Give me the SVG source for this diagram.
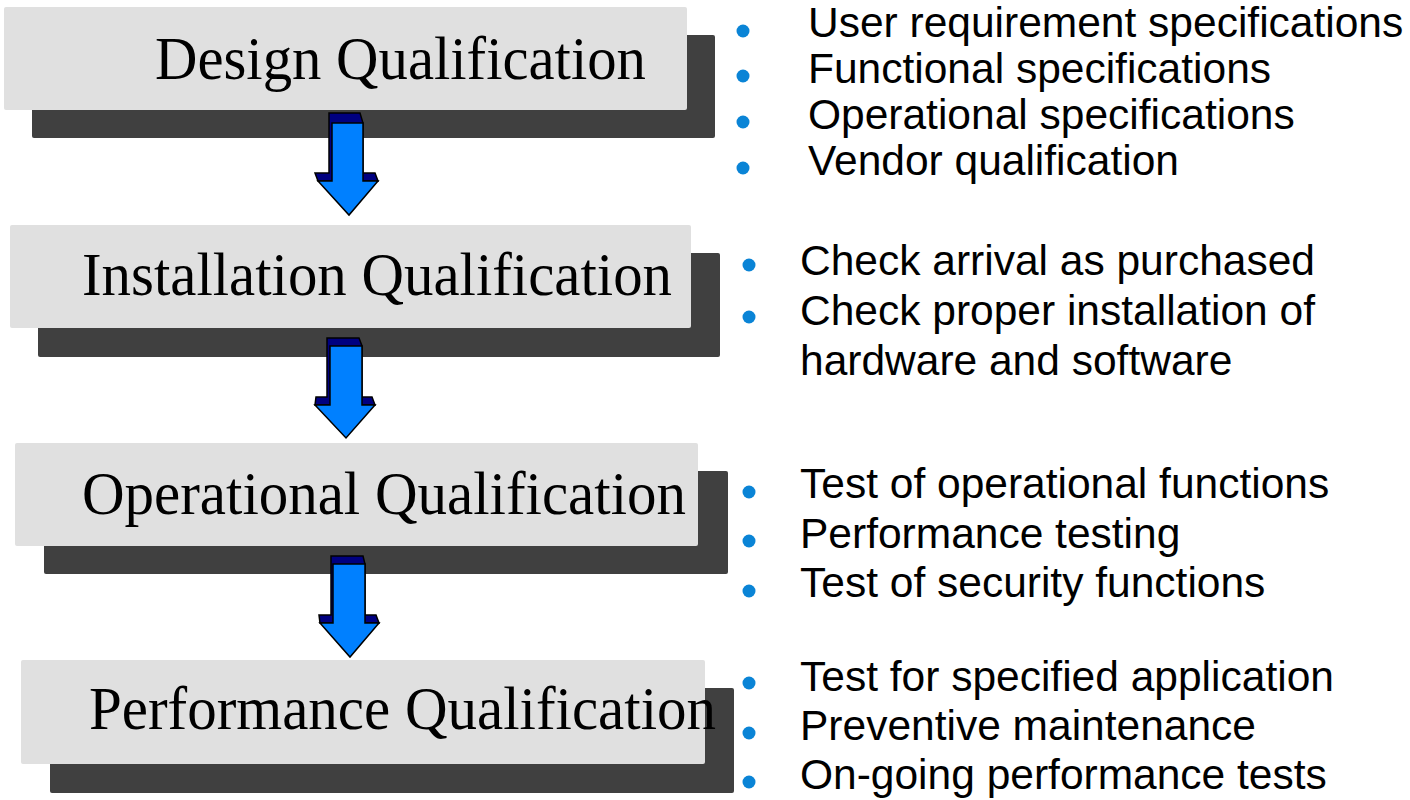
<svg xmlns="http://www.w3.org/2000/svg" width="1410" height="800" viewBox="0 0 1410 800">
<defs>
<style>
.shadow{fill:#404040}
.box{fill:#e0e0e0}
.title{font-family:"Liberation Serif","Times New Roman",serif;font-size:62px;fill:#000}
.item{font-family:"Liberation Sans",Arial,sans-serif;font-size:42.5px;fill:#000}
.bullet{fill:#0a84d6}
.aback{fill:#000080;stroke:#000;stroke-width:1.5;stroke-linejoin:miter}
.afront{fill:#0080ff;stroke:#000;stroke-width:1.5;stroke-linejoin:miter}
</style>
</defs>
<rect width="1410" height="800" fill="#fff"/>

<g id="node-dq">
<rect class="shadow" x="32" y="35" width="683" height="103" rx="2"/>
<rect class="box" x="4" y="7" width="683" height="103" rx="2"/>
<text class="title" x="155" y="79" textLength="491" lengthAdjust="spacingAndGlyphs">Design Qualification</text>
</g>
<g id="node-iq">
<rect class="shadow" x="38" y="253" width="682" height="104" rx="2"/>
<rect class="box" x="10" y="225" width="681" height="103" rx="2"/>
<text class="title" x="82" y="295" textLength="590" lengthAdjust="spacingAndGlyphs">Installation Qualification</text>
</g>
<g id="node-oq">
<rect class="shadow" x="44" y="471" width="684" height="103" rx="2"/>
<rect class="box" x="15" y="443" width="683" height="103" rx="2"/>
<text class="title" x="82" y="514" textLength="604" lengthAdjust="spacingAndGlyphs">Operational Qualification</text>
</g>
<g id="node-pq">
<rect class="shadow" x="50" y="688" width="684" height="105" rx="2"/>
<rect class="box" x="21" y="660" width="684" height="104" rx="2"/>
<text class="title" x="89" y="729" textLength="627" lengthAdjust="spacingAndGlyphs">Performance Qualification</text>
</g>

<g id="connectors">
<g id="arrow-1">
<path class="aback" d="M329,113 L360,113 L363,123 L363,173 L375,173 L378,181 L318,181 L315,173 L329,173 Z"/>
<path class="afront" d="M332,123 L363,123 L363,181 L378,181 L349,215 L318,181 L332,181 Z"/>
</g>
<g id="arrow-2">
<path class="aback" d="M327,338 L359,338 L362,346 L362,397 L372,397 L375,405 L315,405 L316,397 L327,397 Z"/>
<path class="afront" d="M330,346 L362,346 L362,405 L375,405 L346,438 L315,405 L330,405 Z"/>
</g>
<g id="arrow-3">
<path class="aback" d="M331,556 L363,556 L365,564 L365,615 L376,615 L379,623 L320,623 L319,615 L331,615 Z"/>
<path class="afront" d="M333,564 L365,564 L365,623 L379,623 L350,657 L320,623 L333,623 Z"/>
</g>
</g>

<g id="list-dq">
<circle class="bullet" cx="743" cy="31" r="6.5"/>
<circle class="bullet" cx="743" cy="76" r="6.5"/>
<circle class="bullet" cx="743" cy="122" r="6.5"/>
<circle class="bullet" cx="743" cy="168" r="6.5"/>
<text class="item" x="808" y="37">User requirement specifications</text>
<text class="item" x="808" y="83">Functional specifications</text>
<text class="item" x="808" y="129">Operational specifications</text>
<text class="item" x="808" y="175">Vendor qualification</text>
</g>
<g id="list-iq">
<circle class="bullet" cx="749" cy="265" r="6.5"/>
<circle class="bullet" cx="749" cy="317" r="6.5"/>
<text class="item" x="800" y="275">Check arrival as purchased</text>
<text class="item" x="800" y="325">Check proper installation of</text>
<text class="item" x="800" y="375">hardware and software</text>
</g>
<g id="list-oq">
<circle class="bullet" cx="749" cy="492" r="6.5"/>
<circle class="bullet" cx="749" cy="541" r="6.5"/>
<circle class="bullet" cx="749" cy="591" r="6.5"/>
<text class="item" x="800" y="498">Test of operational functions</text>
<text class="item" x="800" y="548">Performance testing</text>
<text class="item" x="800" y="597">Test of security functions</text>
</g>
<g id="list-pq">
<circle class="bullet" cx="749" cy="683" r="6.5"/>
<circle class="bullet" cx="749" cy="733" r="6.5"/>
<circle class="bullet" cx="749" cy="782" r="6.5"/>
<text class="item" x="800" y="691">Test for specified application</text>
<text class="item" x="800" y="740">Preventive maintenance</text>
<text class="item" x="800" y="789">On-going performance tests</text>
</g>
</svg>
